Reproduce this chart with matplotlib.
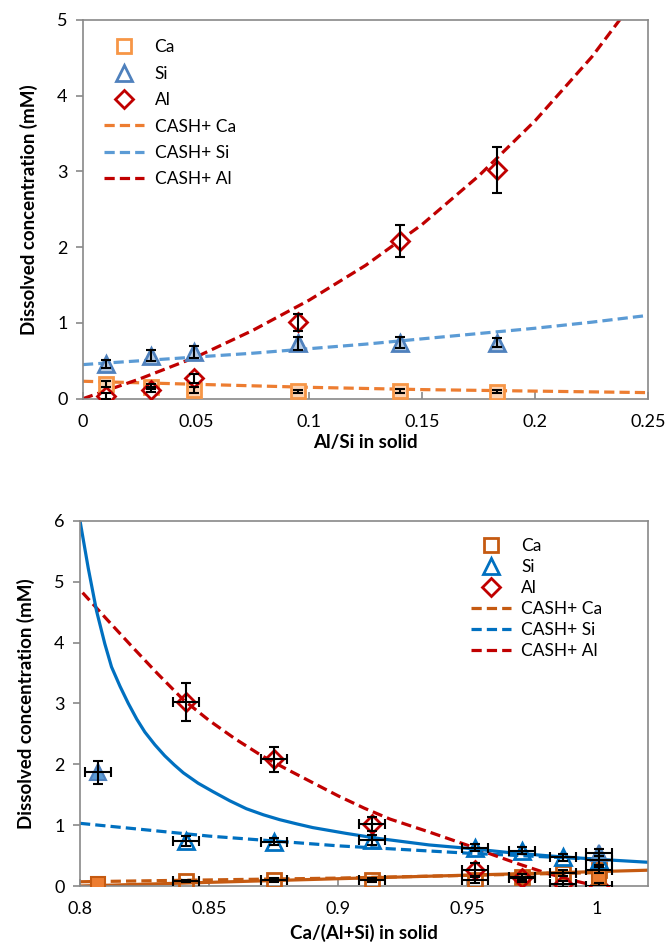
import matplotlib
matplotlib.use("Agg")
import matplotlib.pyplot as plt
from matplotlib.lines import Line2D

plt.rcParams['font.family'] = ['Lato', 'DejaVu Sans']

# ---------------- Top panel data (Al/Si in solid) ----------------
alsi_x = [0.010, 0.030, 0.049, 0.095, 0.140, 0.183]
top_ca = [0.20, 0.16, 0.12, 0.10, 0.10, 0.09]
top_ca_err = [0.04, 0.03, 0.04, 0.02, 0.03, 0.02]
top_si = [0.46, 0.57, 0.62, 0.73, 0.74, 0.74]
top_si_err = [0.05, 0.07, 0.08, 0.09, 0.07, 0.06]
top_al = [0.03, 0.12, 0.27, 1.01, 2.08, 3.02]
top_al_err = [0.04, 0.03, 0.06, 0.11, 0.21, 0.30]

top_model_x = [0.0, 0.025, 0.05, 0.075, 0.1, 0.125, 0.15, 0.175, 0.2, 0.225, 0.25]
top_model_al = [0.0, 0.26, 0.55, 0.90, 1.30, 1.76, 2.30, 2.94, 3.67, 4.51, 5.50]
top_model_si = [0.45, 0.50, 0.55, 0.60, 0.66, 0.72, 0.79, 0.86, 0.93, 1.01, 1.10]
top_model_ca = [0.23, 0.21, 0.19, 0.17, 0.15, 0.135, 0.12, 0.11, 0.10, 0.09, 0.08]

# ---------------- Bottom panel data (Ca/(Al+Si) in solid) ----------------
casi_x = [0.841, 0.875, 0.913, 0.953, 0.971, 0.987, 1.001]
bot_ca = [0.08, 0.10, 0.10, 0.10, 0.15, 0.22, 0.26]
bot_ca_err = [0.02, 0.03, 0.03, 0.05, 0.05, 0.05, 0.05]
bot_si = [0.74, 0.73, 0.75, 0.63, 0.58, 0.47, 0.42]
bot_si_err = [0.08, 0.06, 0.08, 0.06, 0.06, 0.06, 0.08]
bot_al = [3.02, 2.08, 1.02, 0.27, 0.13, 0.03, 0.0]
bot_al_err = [0.31, 0.21, 0.11, 0.10, 0.07, 0.05, 0.05]
bot_xerr = [0.005, 0.005, 0.005, 0.005, 0.005, 0.005, 0.005]

# filled end-member points (no legend entry)
end_x = [0.807, 1.001]
end_ca = [0.04, 0.15]
end_si = [1.87, 0.55]
end_si_err = [0.19, 0.06]

bot_solid_x = [0.800, 0.8032, 0.8064, 0.8096, 0.8122, 0.8155, 0.8187, 0.8220, 0.8251,
               0.8290, 0.8328, 0.8365, 0.8400, 0.8457, 0.8515, 0.8580, 0.8644, 0.8710,
               0.8773, 0.8840, 0.8901, 0.903, 0.9158, 0.9351, 0.950, 0.966, 0.983,
               1.000, 1.020]
bot_solid_si = [6.00, 5.22, 4.52, 3.98, 3.60, 3.28, 3.00, 2.74, 2.53,
                2.32, 2.14, 1.99, 1.86, 1.69, 1.55, 1.40, 1.27, 1.17,
                1.09, 1.02, 0.96, 0.865, 0.78, 0.675, 0.62, 0.55, 0.49,
                0.44, 0.39]
bot_solid_ca_x = [0.800, 0.900, 1.020]
bot_solid_ca = [0.00, 0.12, 0.26]

bot_al_model_x = [0.801, 0.81, 0.82, 0.83, 0.84, 0.85, 0.86, 0.87, 0.88, 0.89, 0.90,
                  0.91, 0.92, 0.935, 0.95, 0.96, 0.97, 0.98, 0.99, 1.00]
bot_al_model = [4.82, 4.40, 3.94, 3.49, 3.06, 2.72, 2.42, 2.15, 1.92, 1.70, 1.48,
                1.28, 1.10, 0.89, 0.67, 0.51, 0.36, 0.22, 0.10, 0.0]
bot_si_model_x = [0.80, 0.85, 0.90, 0.95, 1.00]
bot_si_model = [1.03, 0.82, 0.66, 0.54, 0.44]
bot_ca_model_x = [0.80, 0.90, 1.00]
bot_ca_model = [0.07, 0.13, 0.22]

legend_labels = ['Ca', 'Si', 'Al', 'CASH+ Ca', 'CASH+ Si', 'CASH+ Al']

fig = plt.figure(figsize=(6.69, 9.47), dpi=100)
ax1 = fig.add_axes([0.124, 0.579, 0.845, 0.400])
ax2 = fig.add_axes([0.1196, 0.0644, 0.8494, 0.3856])

spine_c = '#898989'
dash = (3.2, 1.6)
LW = 2.3
TS = 13      # tick label size
LS = 13.5    # axis label size

def style(ax):
    for s in ax.spines.values():
        s.set_color(spine_c)
        s.set_linewidth(1.2)
    ax.tick_params(axis='y', direction='out', length=5, color=spine_c, width=1.2,
                   labelsize=TS, pad=6)
    ax.tick_params(axis='x', direction='in', length=5, color=spine_c, width=1.2,
                   labelsize=TS, pad=11)
    ax.grid(False)

# ---------- top ----------
c_ca1, c_si1, c_al1 = '#F79646', '#4F81BD', '#C00000'
l_ca1, l_si1, l_al1 = '#ED7D31', '#5B9BD5', '#C00000'

ax1.plot(top_model_x, top_model_ca, color=l_ca1, lw=LW, dashes=dash, zorder=2)
ax1.plot(top_model_x, top_model_si, color=l_si1, lw=LW, dashes=dash, zorder=2)
ax1.plot(top_model_x, top_model_al, color=l_al1, lw=LW, dashes=dash, zorder=2)

ax1.plot(alsi_x, top_ca, 's', ms=10, mfc='#FCD5B5', mec=c_ca1, mew=2, ls='none', zorder=3)
ax1.plot(alsi_x, top_si, '^', ms=11, mfc='#B9CDE5', mec=c_si1, mew=2, ls='none', zorder=3)
ax1.plot(alsi_x, top_al, 'D', ms=9.5, mfc='white', mec=c_al1, mew=2, ls='none', zorder=4)
for vals, errs in [(top_ca, top_ca_err), (top_si, top_si_err), (top_al, top_al_err)]:
    ax1.errorbar(alsi_x, vals, yerr=errs, fmt='none', ecolor='black', elinewidth=1.5,
                 capsize=3.5, capthick=1.5, zorder=5)

ax1.set_xlim(0, 0.25)
ax1.set_ylim(0, 5)
ax1.set_xticks([0, 0.05, 0.1, 0.15, 0.2, 0.25])
ax1.set_xticklabels(['0', '0.05', '0.1', '0.15', '0.2', '0.25'])
ax1.set_yticks([0, 1, 2, 3, 4, 5])
style(ax1)
ax1.set_xlabel('Al/Si in solid', fontsize=LS, fontweight='bold', labelpad=3)
ax1.set_ylabel('Dissolved concentration (mM)', fontsize=LS, fontweight='bold', labelpad=14)

h1 = [Line2D([], [], marker='s', ls='none', ms=10, mfc='white', mec=c_ca1, mew=2),
      Line2D([], [], marker='^', ls='none', ms=11, mfc='white', mec=c_si1, mew=2),
      Line2D([], [], marker='D', ls='none', ms=9, mfc='white', mec=c_al1, mew=2),
      Line2D([], [], color=l_ca1, lw=LW, dashes=dash),
      Line2D([], [], color=l_si1, lw=LW, dashes=dash),
      Line2D([], [], color=l_al1, lw=LW, dashes=dash)]
ax1.legend(h1, legend_labels, loc='upper left', bbox_to_anchor=(0.01, 0.99), frameon=False,
           fontsize=12.5, handlelength=2.3, labelspacing=0.6, handletextpad=0.6)

# ---------- bottom ----------
c_ca2, c_si2, c_al2 = '#C55A11', '#0070C0', '#C00000'

ax2.plot(bot_ca_model_x, bot_ca_model, color=c_ca2, lw=LW, dashes=dash, zorder=2)
ax2.plot(bot_si_model_x, bot_si_model, color=c_si2, lw=LW, dashes=dash, zorder=2)
ax2.plot(bot_al_model_x, bot_al_model, color=c_al2, lw=LW, dashes=dash, zorder=2)
ax2.plot(bot_solid_x, bot_solid_si, color=c_si2, lw=LW, zorder=2)
ax2.plot(bot_solid_ca_x, bot_solid_ca, color=c_ca2, lw=LW, zorder=2)

ax2.plot(casi_x, bot_ca, 's', ms=10, mfc='none', mec=c_ca2, mew=2, ls='none', zorder=3)
ax2.plot(casi_x, bot_si, '^', ms=11, mfc='none', mec=c_si2, mew=2, ls='none', zorder=3)
ax2.plot(casi_x, bot_al, 'D', ms=9.5, mfc='none', mec=c_al2, mew=2, ls='none', zorder=3)
ax2.plot(end_x, end_ca, 's', ms=10, mfc='#ED7D31', mec=c_ca2, mew=1.5, ls='none', zorder=3)
ax2.plot(end_x, end_si, '^', ms=12, mfc='#5B9BD5', mec='#4F81BD', mew=1.5, ls='none', zorder=3)

for vals, errs in [(bot_ca, bot_ca_err), (bot_si, bot_si_err), (bot_al, bot_al_err)]:
    ax2.errorbar(casi_x, vals, yerr=errs, xerr=bot_xerr, fmt='none', ecolor='black',
                 elinewidth=1.5, capsize=3.5, capthick=1.5, zorder=4)
ax2.errorbar(end_x, end_si, yerr=end_si_err, xerr=[0.005, 0.005], fmt='none', ecolor='black',
             elinewidth=1.5, capsize=3.5, capthick=1.5, zorder=4)

ax2.set_xlim(0.8, 1.02)
ax2.set_ylim(0, 6)
ax2.set_xticks([0.8, 0.85, 0.9, 0.95, 1.0])
ax2.set_xticklabels(['0.8', '0.85', '0.9', '0.95', '1'])
ax2.set_yticks([0, 1, 2, 3, 4, 5, 6])
style(ax2)
ax2.set_xlabel('Ca/(Al+Si) in solid', fontsize=LS, fontweight='bold', labelpad=5)
ax2.set_ylabel('Dissolved concentration (mM)', fontsize=LS, fontweight='bold', labelpad=14)

h2 = [Line2D([], [], marker='s', ls='none', ms=10, mfc='white', mec=c_ca2, mew=2),
      Line2D([], [], marker='^', ls='none', ms=11, mfc='white', mec=c_si2, mew=2),
      Line2D([], [], marker='D', ls='none', ms=9, mfc='white', mec=c_al2, mew=2),
      Line2D([], [], color=c_ca2, lw=LW, dashes=dash),
      Line2D([], [], color=c_si2, lw=LW, dashes=dash),
      Line2D([], [], color=c_al2, lw=LW, dashes=dash)]
ax2.legend(h2, legend_labels, loc='upper left', bbox_to_anchor=(0.66, 0.995), frameon=False,
           fontsize=12.5, handlelength=2.3, labelspacing=0.28, handletextpad=0.6)

fig.savefig('out.png', dpi=100)
